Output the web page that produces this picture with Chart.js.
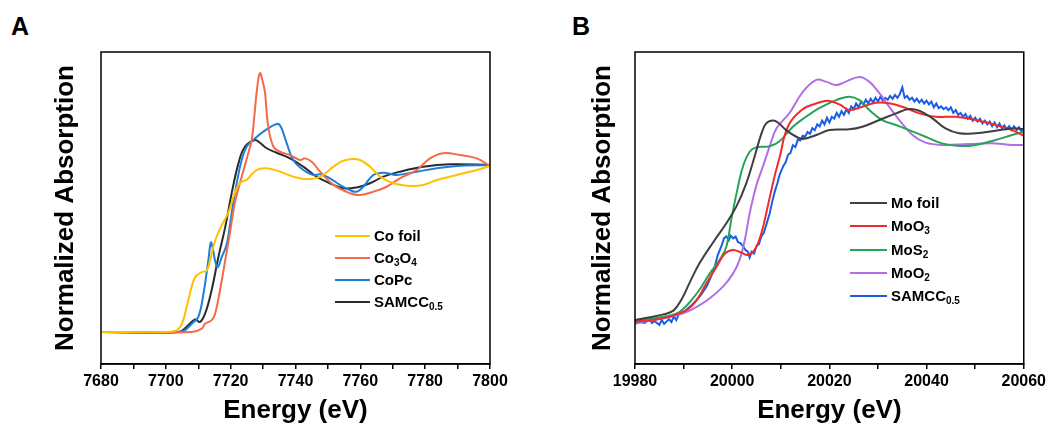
<!DOCTYPE html>
<html>
<head>
<meta charset="utf-8">
<script src="https://cdn.jsdelivr.net/npm/chart.js@4.4.1/dist/chart.umd.min.js"></script>
<style>
    html, body { margin: 0; padding: 0; background: #fff; }
    #wrap { position: relative; width: 1049px; height: 430px; overflow: hidden; }
    canvas { position: absolute; top: 0; }
    .letter { position: absolute; font: bold 25px "Liberation Sans", Arial, sans-serif; color: #000; }
    .legend { position: absolute; font: bold 15px "Liberation Sans", Arial, sans-serif; color: #000; }
    .legend .row { position: absolute; left: 0; white-space: nowrap; height: 18px; line-height: 18px; }
    .legend .swatch { position: absolute; left: 0; top: 8px; height: 2px; }
    .legend .txt { position: absolute; top: 0; }
    .legend sub { font-size: 10px; vertical-align: -3px; line-height: 0; }
</style>
</head>
<body>
<div id="wrap">
    <div class="letter" style="left:11px; top:12px;">A</div>
    <div class="letter" style="left:572px; top:12px;">B</div>
    <canvas id="chartA" width="525" height="430" style="left:0;"></canvas>
    <canvas id="chartB" width="524" height="430" style="left:525px;"></canvas>
    <div id="legendA" class="legend" style="left:335px; top:227px;"></div>
    <div id="legendB" class="legend" style="left:850px; top:194px;"></div>
</div>
<script>
// Panel A - Co K-edge
const coFoilE = [7680, 7700, 7703.3, 7705, 7706.9, 7709, 7711.1, 7712.6, 7713.6, 7715.2, 7717.2, 7719.3, 7721.3, 7722.9, 7724.9, 7728, 7731.1, 7735.2, 7739.3, 7743.5, 7747.6, 7751.7, 7754.5, 7757.5, 7759.9, 7763, 7766.1, 7770.2, 7775.3, 7779.4, 7783.6, 7789.7, 7795.9, 7800];
const coFoilY = [0, 0, 0.01, 0.05, 0.19, 0.33, 0.36, 0.37, 0.43, 0.55, 0.64, 0.72, 0.84, 0.90, 0.916, 0.976, 0.986, 0.966, 0.936, 0.92, 0.936, 0.996, 1.03, 1.042, 1.036, 0.996, 0.936, 0.896, 0.88, 0.886, 0.916, 0.946, 0.976, 1.0];

const co3o4E = [7680, 7708, 7711.1, 7712.1, 7714.1, 7715.2, 7716.7, 7718.3, 7719.8, 7721.3, 7722.9, 7724.9, 7726.5, 7727.3, 7728, 7729, 7730, 7730.6, 7731.6, 7733.2, 7735.2, 7738.3, 7741.4, 7742.9, 7745, 7747.6, 7751.7, 7756.8, 7759.9, 7764, 7768.1, 7772.2, 7777.4, 7781.5, 7785.6, 7790.7, 7795.9, 7800];
const co3o4Y = [0, 0, 0.02, 0.05, 0.07, 0.11, 0.25, 0.43, 0.60, 0.78, 0.90, 1.04, 1.16, 1.30, 1.44, 1.56, 1.50, 1.44, 1.237, 1.116, 1.086, 1.066, 1.036, 1.046, 1.026, 0.966, 0.886, 0.836, 0.825, 0.845, 0.875, 0.926, 0.976, 1.046, 1.077, 1.066, 1.046, 1.0];

const coPcE = [7680, 7704, 7705.9, 7708, 7710, 7711.6, 7713.1, 7713.9, 7714.5, 7715.2, 7716, 7717.2, 7718.8, 7720.3, 7721.9, 7723.4, 7724.9, 7727, 7730.1, 7734.2, 7735.4, 7737.3, 7739.3, 7742.4, 7745.5, 7747.6, 7750.6, 7753.7, 7756.8, 7758.9, 7760.9, 7764, 7767.1, 7771.2, 7777.4, 7783.6, 7789.7, 7800];
const coPcY = [0, 0, 0.01, 0.05, 0.09, 0.23, 0.43, 0.54, 0.50, 0.43, 0.39, 0.45, 0.53, 0.715, 0.90, 1.036, 1.116, 1.157, 1.207, 1.253, 1.24, 1.137, 1.036, 0.976, 0.946, 0.95, 0.926, 0.886, 0.855, 0.845, 0.875, 0.946, 0.96, 0.946, 0.966, 0.986, 1.0, 1.006];

const samccCoE = [7680, 7704, 7706.9, 7709, 7710.5, 7712.1, 7714.1, 7716.2, 7718.3, 7720.3, 7722.4, 7724.4, 7727.5, 7729, 7731.1, 7734.2, 7738.3, 7742.4, 7746.5, 7750.6, 7754.7, 7758.9, 7763, 7767.1, 7772.2, 7779.4, 7787.7, 7800];
const samccCoY = [0, 0, 0.04, 0.076, 0.06, 0.11, 0.25, 0.45, 0.63, 0.835, 1.016, 1.116, 1.157, 1.14, 1.107, 1.08, 1.046, 0.996, 0.936, 0.896, 0.866, 0.871, 0.896, 0.936, 0.966, 0.996, 1.01, 1.006];

// Panel B - Mo K-edge
const moFoilE = [19980, 19983.1, 19985.8, 19987.9, 19989.6, 19991.3, 19993.3, 19996.1, 19998.8, 20000.9, 20002.9, 20004.6, 20006, 20007, 20008.4, 20009.4, 20011.1, 20013.2, 20014.5, 20017.3, 20020, 20024.1, 20026.8, 20030.3, 20033.7, 20036.4, 20038.5, 20041.2, 20043.9, 20046.7, 20050.1, 20054.2, 20057.6, 20060];
const moFoilY = [0.01, 0.025, 0.04, 0.06, 0.12, 0.21, 0.31, 0.42, 0.52, 0.61, 0.73, 0.87, 0.99, 1.045, 1.06, 1.05, 1.01, 0.975, 0.963, 0.984, 1.01, 1.014, 1.028, 1.063, 1.098, 1.121, 1.112, 1.072, 1.019, 0.993, 0.993, 1.007, 1.019, 1.015];

const moO3E = [19980, 19985.8, 19990.6, 19992.7, 19994.7, 19996.8, 19998.5, 20000.2, 20001.9, 20003.2, 20004.6, 20006, 20007.3, 20008.7, 20009.7, 20011.5, 20014.5, 20017.3, 20019.7, 20022.1, 20024.1, 20026.8, 20029.6, 20032.3, 20035, 20038.5, 20041.9, 20046, 20050.1, 20054.2, 20057.6, 20060];
const moO3Y = [0, 0.02, 0.063, 0.116, 0.204, 0.291, 0.36, 0.379, 0.365, 0.353, 0.379, 0.467, 0.607, 0.765, 0.86, 1.03, 1.12, 1.15, 1.165, 1.145, 1.116, 1.133, 1.154, 1.151, 1.133, 1.098, 1.08, 1.08, 1.063, 1.037, 1.01, 0.98];

const moS2E = [19980, 19985.8, 19989.2, 19992.7, 19995.4, 19997.4, 19998.8, 19999.8, 20000.9, 20002.2, 20003.6, 20004.9, 20007.7, 20009.7, 20012.5, 20015.2, 20017.9, 20021.4, 20024.1, 20026.2, 20028.2, 20030.9, 20033.7, 20036.4, 20039.8, 20043.2, 20046.7, 20050.1, 20054.2, 20057.6, 20060];
const moS2Y = [0.005, 0.028, 0.054, 0.15, 0.256, 0.326, 0.396, 0.537, 0.677, 0.817, 0.896, 0.919, 0.925, 0.95, 1.028, 1.08, 1.125, 1.168, 1.186, 1.168, 1.116, 1.063, 1.037, 1.01, 0.975, 0.94, 0.926, 0.932, 0.958, 0.984, 1.0];

const moO2E = [19980, 19985.8, 19989.9, 19992.7, 19995.4, 19998.1, 20000.2, 20001.5, 20002.6, 20003.6, 20004.9, 20006.3, 20007.7, 20009.1, 20011.8, 20014.5, 20017.3, 20019.3, 20021.4, 20023.4, 20026.2, 20028.2, 20030.3, 20032.3, 20034.4, 20037.1, 20039.8, 20043.2, 20048.7, 20054.2, 20057.6, 20060];
const moO2Y = [-0.007, 0.02, 0.046, 0.08, 0.125, 0.186, 0.256, 0.326, 0.432, 0.572, 0.712, 0.817, 0.923, 1.019, 1.10, 1.21, 1.274, 1.265, 1.247, 1.265, 1.29, 1.265, 1.204, 1.133, 1.063, 0.984, 0.944, 0.932, 0.937, 0.94, 0.932, 0.932];

// SAMCC på Mo-kanten er støyete, verdiene er lest av punkt for punkt
const samccMoE = [19980, 19981, 19982, 19983, 19983.5, 19984, 19985, 19985.5, 19986, 19987, 19987.5, 19988, 19988.5, 19989, 19990, 19990.6, 19991.5, 19992.7, 19993.5, 19994.7, 19995.5, 19996.4, 19997, 19997.8, 19998.3, 19998.8, 19999.3, 19999.7, 20000.2, 20000.7, 20001.2, 20001.7, 20002.2, 20002.7, 20003.2, 20003.6, 20004, 20004.5, 20005, 20005.5, 20006, 20006.5, 20007, 20007.7, 20008.3, 20008.8, 20009.3, 20009.7,
    20010, 20010.5, 20011, 20011.5, 20012, 20012.5, 20013, 20013.5, 20014, 20014.5, 20015, 20015.5, 20016, 20016.5, 20017, 20017.5, 20018, 20018.5, 20019, 20019.5, 20020, 20020.5, 20021, 20021.5, 20022, 20022.5, 20023, 20023.5, 20024, 20024.5, 20025, 20025.5, 20026, 20026.5, 20027, 20027.5, 20028, 20028.5, 20029, 20029.5, 20030, 20030.5, 20031, 20031.5, 20032, 20032.5, 20033, 20033.5, 20034, 20034.5, 20035, 20035.5,
    20036, 20036.5, 20037, 20037.5, 20038, 20038.5, 20039, 20039.5, 20040, 20040.5, 20041, 20041.5, 20042, 20042.5, 20043, 20043.5, 20044, 20044.5, 20045, 20045.5, 20046, 20046.5, 20047, 20047.5, 20048, 20048.5, 20049, 20049.5, 20050, 20050.5, 20051, 20051.5, 20052, 20052.5, 20053, 20053.5, 20054, 20054.5, 20055, 20055.5, 20056, 20056.5, 20057, 20057.5, 20058, 20058.5, 20059, 20059.5, 20060];
const samccMoY = [-0.01, 0.0, -0.005, 0.015, -0.005, 0.005, -0.015, 0.01, -0.01, 0.015, 0.0, 0.03, 0.01, 0.04, 0.05, 0.065, 0.085, 0.116, 0.14, 0.186, 0.23, 0.29, 0.35, 0.40, 0.44, 0.45, 0.43, 0.455, 0.44, 0.45, 0.42, 0.415, 0.40, 0.38, 0.37, 0.34, 0.37, 0.36, 0.40, 0.41, 0.45, 0.47, 0.51, 0.57, 0.64, 0.69, 0.73, 0.77,
    0.79, 0.82, 0.84, 0.88, 0.89, 0.93, 0.92, 0.96, 0.955, 0.98, 0.975, 1.0, 0.99, 1.02, 1.01, 1.04, 1.03, 1.06, 1.04, 1.075, 1.05, 1.08, 1.07, 1.10, 1.08, 1.11, 1.09, 1.12, 1.10, 1.135, 1.12, 1.15, 1.13, 1.16, 1.145, 1.17, 1.15, 1.175, 1.155, 1.18, 1.16, 1.185, 1.165, 1.18, 1.17, 1.19, 1.175, 1.195, 1.18, 1.20, 1.235, 1.18,
    1.19, 1.17, 1.18, 1.16, 1.175, 1.155, 1.17, 1.15, 1.165, 1.145, 1.16, 1.13, 1.15, 1.125, 1.135, 1.12, 1.13, 1.115, 1.13, 1.10, 1.115, 1.09, 1.10, 1.08, 1.095, 1.07, 1.085, 1.06, 1.075, 1.055, 1.07, 1.045, 1.06, 1.04, 1.055, 1.03, 1.05, 1.025, 1.045, 1.02, 1.035, 1.015, 1.03, 1.01, 1.03, 1.01, 1.025, 1.005, 1.02];

const labelsA = ['Co foil', 'Co<sub>3</sub>O<sub>4</sub>', 'CoPc', 'SAMCC<sub>0.5</sub>'];
const labelsB = ['Mo foil', 'MoO<sub>3</sub>', 'MoS<sub>2</sub>', 'MoO<sub>2</sub>', 'SAMCC<sub>0.5</sub>'];

const SANS = '"Liberation Sans", Arial, sans-serif';

function toPoints(xs, ys) {
    return xs.map((x, i) => ({ x: x, y: ys[i] }));
}

function lineSet(label, xs, ys, color, tension) {
    return {
        label: label,
        data: toPoints(xs, ys),
        borderColor: color,
        backgroundColor: color,
        borderWidth: 2,
        pointRadius: 0,
        fill: false,
        tension: tension
    };
}

// Rammen rundt plottet
const framePlugin = {
    id: 'frame',
    afterDraw(chart) {
        const { ctx, chartArea } = chart;
        ctx.save();
        ctx.strokeStyle = '#000';
        ctx.lineWidth = 1.5;
        ctx.strokeRect(chartArea.left, chartArea.top, chartArea.right - chartArea.left, chartArea.bottom - chartArea.top);
        ctx.restore();
    }
};

function makeOptions(xMin, xMax, yMin, yMax, pad, yWidth) {
    return {
        responsive: false,
        animation: false,
        devicePixelRatio: 1,
        layout: { padding: pad },
        plugins: { legend: { display: false }, tooltip: { enabled: false } },
        scales: {
            x: {
                type: 'linear',
                min: xMin,
                max: xMax,
                afterFit: (scale) => { scale.height = 66; },
                grid: { display: true, drawOnChartArea: false, drawTicks: true, tickLength: 5, color: '#000', lineWidth: 1.5 },
                border: { display: true, color: '#000', width: 1.5 },
                ticks: {
                    stepSize: 10,
                    autoSkip: false,
                    maxRotation: 0,
                    padding: 3,
                    color: '#000',
                    font: { family: SANS, size: 16, weight: 'bold' },
                    callback: (v) => (v % 20 === 0 ? String(v) : '')
                },
                title: {
                    display: true,
                    text: 'Energy (eV)',
                    color: '#000',
                    font: { family: SANS, size: 26, weight: 'bold' },
                    padding: { top: 0, bottom: 4 }
                }
            },
            y: {
                min: yMin,
                max: yMax,
                afterFit: (scale) => { scale.width = yWidth; },
                grid: { display: false },
                border: { display: false },
                ticks: { display: false },
                title: {
                    display: true,
                    text: 'Normalized Absorption',
                    color: '#000',
                    font: { family: SANS, size: 26, weight: 'bold' },
                    padding: 0
                }
            }
        }
    };
}

function buildLegend(elId, chart, labels, gap, swatchW) {
    const box = document.getElementById(elId);
    chart.data.datasets.forEach((ds, i) => {
        const row = document.createElement('div');
        row.className = 'row';
        row.style.top = (i * gap) + 'px';
        row.innerHTML = `<span class="swatch" style="width:${swatchW}px;background:${ds.borderColor}"></span>` +
            `<span class="txt" style="left:${swatchW + 4}px">${labels[i]}</span>`;
        box.appendChild(row);
    });
}

const chartA = new Chart(document.getElementById('chartA').getContext('2d'), {
    type: 'line',
    data: {
        datasets: [
            lineSet('Co foil', coFoilE, coFoilY, '#FFC000', 0.4),
            lineSet('Co₃O₄', co3o4E, co3o4Y, '#F26A4A', 0.4),
            lineSet('CoPc', coPcE, coPcY, '#1E7FD8', 0.4),
            lineSet('SAMCC₀.₅', samccCoE, samccCoY, '#2B2B2B', 0.4)
        ]
    },
    options: makeOptions(7680, 7800, -0.193, 1.687, { left: 50, right: 35, top: 52, bottom: 0 }, 51),
    plugins: [framePlugin]
});

const chartB = new Chart(document.getElementById('chartB').getContext('2d'), {
    type: 'line',
    data: {
        datasets: [
            lineSet('Mo foil', moFoilE, moFoilY, '#3F3F3F', 0.4),
            lineSet('MoO₃', moO3E, moO3Y, '#F22A2A', 0.4),
            lineSet('MoS₂', moS2E, moS2Y, '#27A35A', 0.4),
            lineSet('MoO₂', moO2E, moO2Y, '#B26EE6', 0.4),
            lineSet('SAMCC₀.₅', samccMoE, samccMoY, '#1B5EE6', 0)
        ]
    },
    options: makeOptions(19980, 20060, -0.221, 1.421, { left: 62, right: 24, top: 52, bottom: 0 }, 48),
    plugins: [framePlugin]
});

buildLegend('legendA', chartA, labelsA, 22, 35);
buildLegend('legendB', chartB, labelsB, 23.3, 37);
</script>
</body>
</html>
